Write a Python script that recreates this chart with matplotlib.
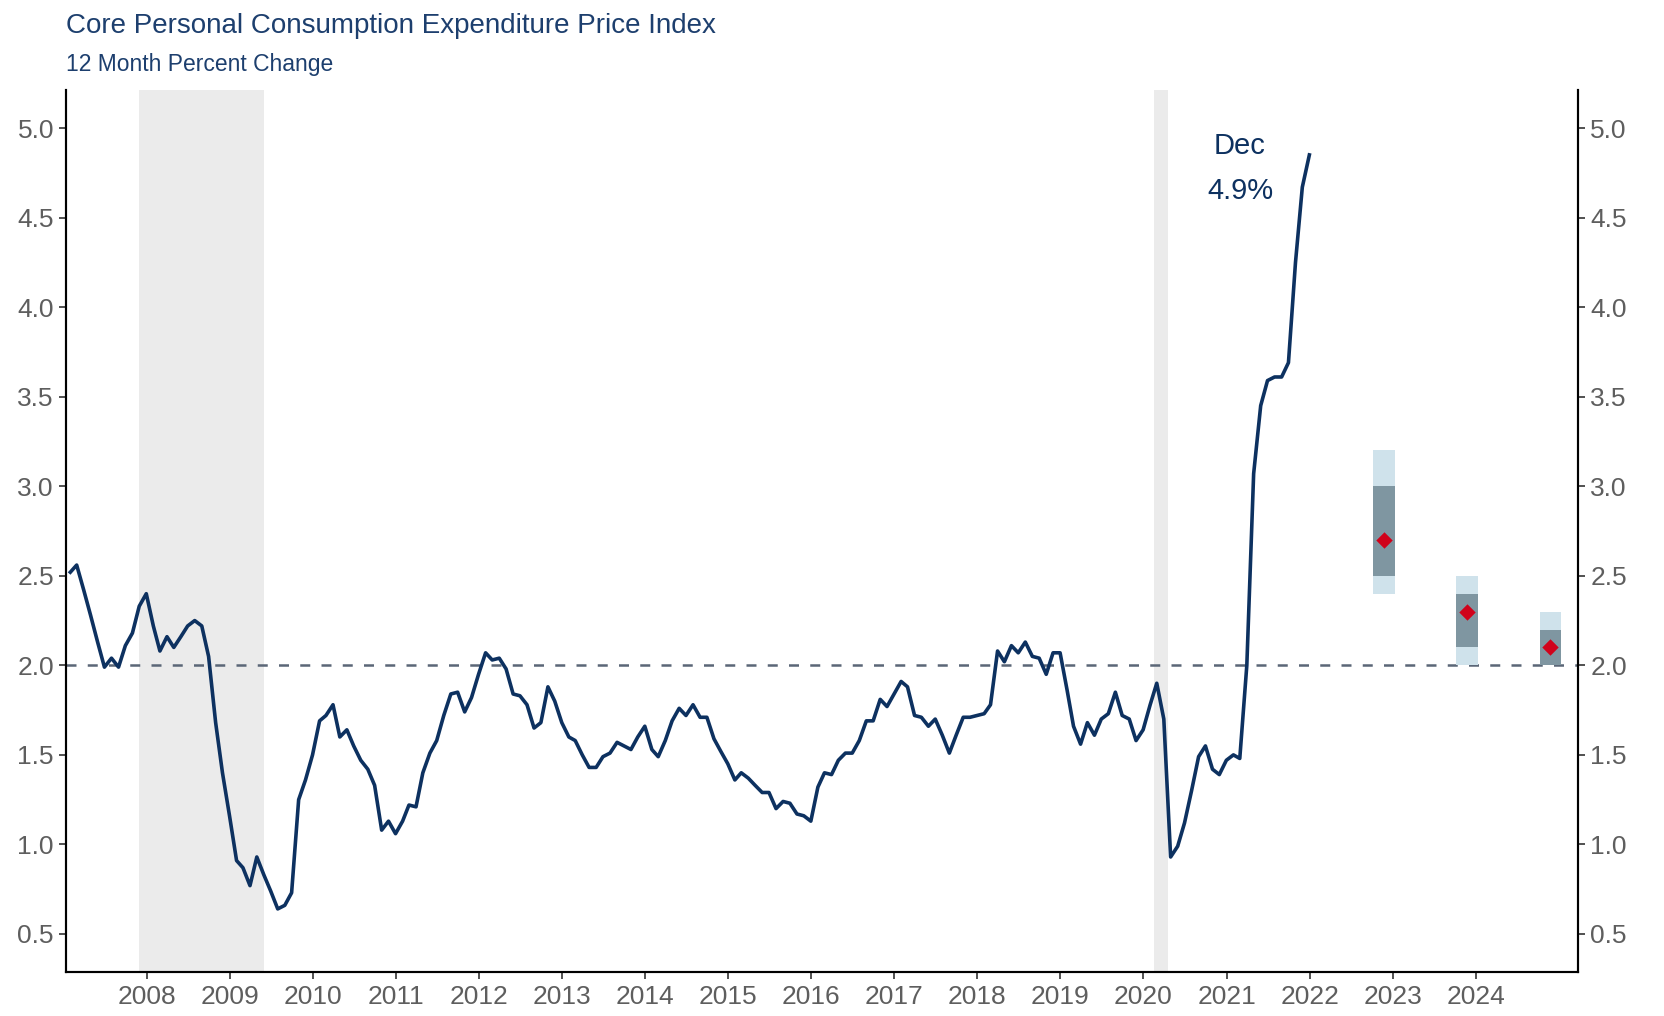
import numpy as np
import pandas as pd
import matplotlib
matplotlib.use("Agg")
import matplotlib.pyplot as plt
import matplotlib.dates as mdates

plt.rcParams["font.family"] = ["Liberation Sans", "DejaVu Sans"]

# core PCE, 12 month % change, Jan 2007 - Dec 2021 (monthly)
pce_2007_2011 = [
    2.52, 2.56, 2.42, 2.28, 2.13, 1.99, 2.04, 1.99, 2.11, 2.18, 2.33, 2.40,
    2.22, 2.08, 2.16, 2.10, 2.16, 2.22, 2.25, 2.22, 2.05, 1.68, 1.40, 1.16,
    0.91, 0.87, 0.77, 0.93, 0.83, 0.74, 0.64, 0.66, 0.73, 1.25, 1.36, 1.50,
    1.69, 1.72, 1.78, 1.60, 1.64, 1.55, 1.47, 1.42, 1.33, 1.08, 1.13, 1.06,
    1.13, 1.22, 1.21, 1.40, 1.51, 1.58, 1.72, 1.84, 1.85, 1.74, 1.82, 1.95,
]
pce_2012_2016 = [
    2.07, 2.03, 2.04, 1.98, 1.84, 1.83, 1.78, 1.65, 1.68, 1.88, 1.80, 1.68,
    1.60, 1.58, 1.50, 1.43, 1.43, 1.49, 1.51, 1.57, 1.55, 1.53, 1.60, 1.66,
    1.53, 1.49, 1.58, 1.69, 1.76, 1.72, 1.78, 1.71, 1.71, 1.59, 1.52, 1.45,
    1.36, 1.40, 1.37, 1.33, 1.29, 1.29, 1.20, 1.24, 1.23, 1.17, 1.16, 1.13,
    1.32, 1.40, 1.39, 1.47, 1.51, 1.51, 1.58, 1.69, 1.69, 1.81, 1.77, 1.84,
]
pce_2017_2021 = [
    1.91, 1.88, 1.72, 1.71, 1.66, 1.70, 1.61, 1.51, 1.61, 1.71, 1.71, 1.72,
    1.73, 1.78, 2.08, 2.02, 2.11, 2.07, 2.13, 2.05, 2.04, 1.95, 2.07, 2.07,
    1.86, 1.66, 1.56, 1.68, 1.61, 1.70, 1.73, 1.85, 1.72, 1.70, 1.58, 1.64,
    1.78, 1.90, 1.70, 0.93, 0.99, 1.12, 1.30, 1.49, 1.55, 1.42, 1.39, 1.47,
    1.50, 1.48, 2.00, 3.07, 3.45, 3.59, 3.61, 3.61, 3.69, 4.25, 4.67, 4.85,
]
pce = pce_2007_2011 + pce_2012_2016 + pce_2017_2021
months = pd.date_range("2007-01-31", periods=len(pce), freq="ME")
latest_label = "4.9%"  # as printed on the chart

# FOMC projections (Q4): range, central tendency, median
proj_dates = pd.to_datetime(["2022-11-25", "2023-11-25", "2024-11-25"])
range_low = [2.4, 2.0, 2.0]
range_high = [3.2, 2.5, 2.3]
ct_low = [2.5, 2.1, 2.0]
ct_high = [3.0, 2.4, 2.2]
median = [2.7, 2.3, 2.1]

recessions = [("2007-12-01", "2009-06-01"), ("2020-02-18", "2020-04-18")]
target = 2.0

NAVY = "#0d3160"
GREY_TXT = "#5e5e5e"

fig = plt.figure(figsize=(16.65, 10.16), dpi=100)
ax = fig.add_axes([0.0395, 0.0437, 0.9085, 0.8673])

for start, end in recessions:
    ax.axvspan(mdates.date2num(pd.Timestamp(start)), mdates.date2num(pd.Timestamp(end)),
               color="#ebebeb", lw=0, zorder=0)

ax.axhline(target, color="#5b6677", ls=(0, (4, 4.5)), lw=1.8, zorder=1)

ax.plot(mdates.date2num(months), pce, color=NAVY, lw=2.6, zorder=3)

px = mdates.date2num(proj_dates)
w = 95
ax.bar(px, np.subtract(range_high, range_low), bottom=range_low, width=w,
       color="#cfe2eb", zorder=2)
ax.bar(px, np.subtract(ct_high, ct_low), bottom=ct_low, width=w,
       color="#7f96a1", zorder=2)
ax.scatter(px, median, marker="D", s=70, color="#d0021b", zorder=4, lw=0)

last = months[-1]
lbl_x = mdates.date2num(pd.Timestamp("2021-03-01"))
ax.text(lbl_x, 4.90, last.strftime("%b"), ha="center", va="center",
        fontsize=21, color=NAVY)
ax.text(lbl_x, 4.65, latest_label, ha="center", va="center",
        fontsize=21, color=NAVY)

years = list(range(2008, 2025))
ax.set_xticks([mdates.date2num(pd.Timestamp(f"{y}-01-01")) for y in years])
ax.set_xticklabels([str(y) for y in years])
ax.set_xlim(mdates.date2num(pd.Timestamp("2007-01-11")),
            mdates.date2num(pd.Timestamp("2025-03-28")))

yticks = np.arange(0.5, 5.01, 0.5)
ax.set_ylim(0.29, 5.21)
ax.set_yticks(yticks)
ax.set_yticklabels([f"{v:.1f}" for v in yticks])

ax2 = ax.twinx()
ax2.set_ylim(ax.get_ylim())
ax2.set_yticks(yticks)
ax2.set_yticklabels([f"{v:.1f}" for v in yticks])

for a in (ax, ax2):
    a.spines["top"].set_visible(False)
    for s in ("left", "right", "bottom"):
        a.spines[s].set_linewidth(1.5)
    a.tick_params(direction="out", length=5, width=1.2, labelsize=19,
                  labelcolor=GREY_TXT, color="#333333")
ax.tick_params(axis="x", pad=5)

fig.text(66 / 1665, 1 - 26 / 1016, "Core Personal Consumption Expenditure Price Index",
         fontsize=20, color="#1d3f6e", va="center", ha="left")
fig.text(66 / 1665, 1 - 65 / 1016, "12 Month Percent Change",
         fontsize=16.5, color="#1d3f6e", va="center", ha="left")

fig.savefig("out.png", dpi=100)
